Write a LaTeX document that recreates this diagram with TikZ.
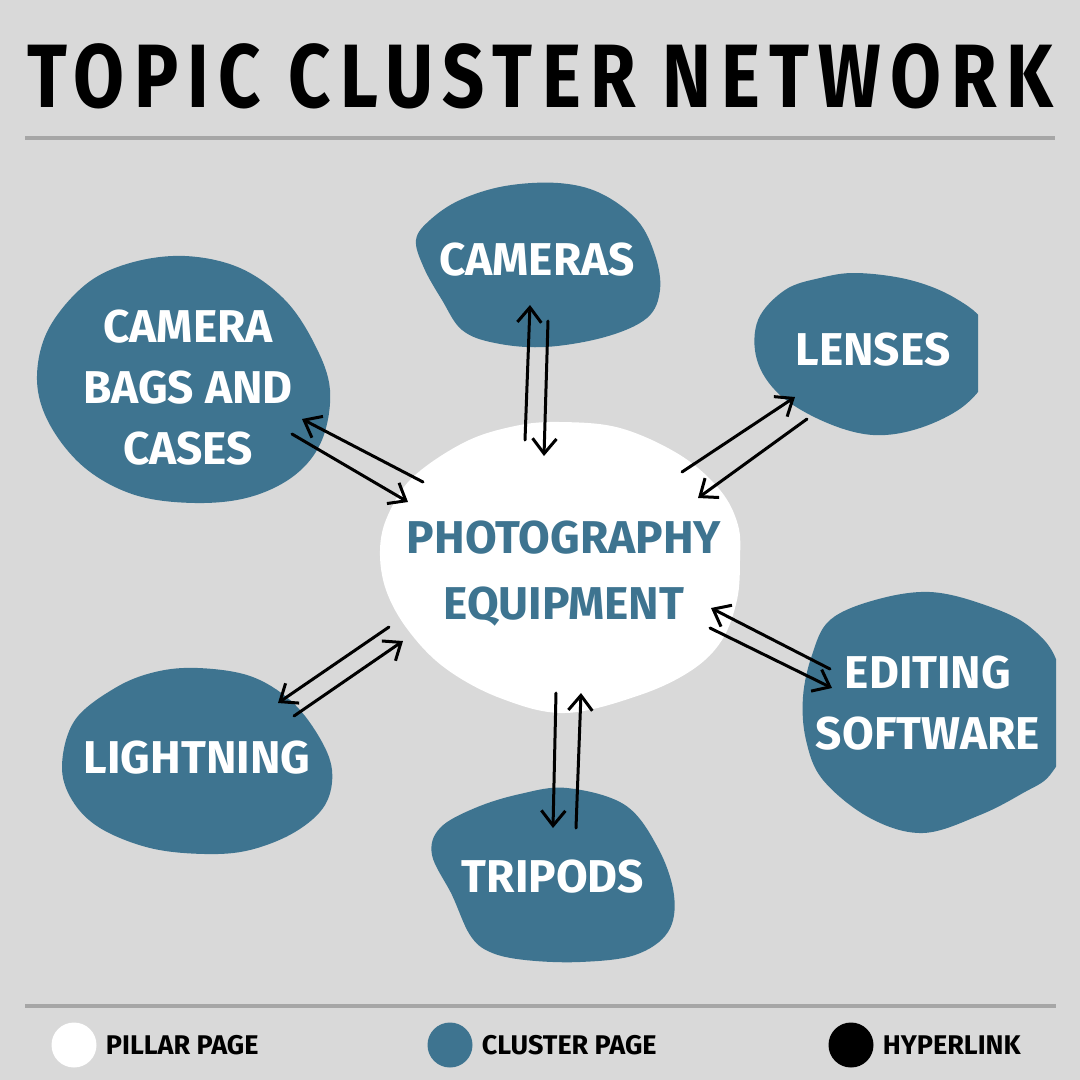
\documentclass[tikz,border=0pt]{standalone}
\usepackage{fontspec}
\setmainfont{Fira Sans}
\newfontfamily\titlefont{Fira Sans}[FakeStretch=0.82, LetterSpace=10.5]
\usetikzlibrary{positioning, arrows.meta}
\definecolor{paper}{HTML}{D9D9D9}
\definecolor{clusterblue}{HTML}{3E7490}
\definecolor{rulegray}{HTML}{A6A6A6}

\begin{document}
\begin{tikzpicture}[x=1pt, y=-1pt,
    blob/.style={fill=clusterblue},
    pillarblob/.style={fill=white},
    clustertext/.style={text=white, font=\bfseries\fontsize{46}{61}\selectfont, align=center, text depth=0pt},
    pillartext/.style={text=clusterblue, font=\bfseries\fontsize{46}{66}\selectfont, align=center, text depth=0pt},
    link/.style={line width=3pt, line cap=round, -{Straight Barb[length=15pt, width=24pt]}},
    key/.style={circle, minimum size=45pt, inner sep=0pt},
    keytext/.style={font=\bfseries\fontsize{27}{27}\selectfont, inner sep=0pt, anchor=west, text depth=0pt}]

    % background and rules
    \fill[paper] (0,0) rectangle (1080,1080);
    \useasboundingbox (0,0) rectangle (1080,1080);
    \node[font=\titlefont\bfseries\fontsize{90}{90}\selectfont, text depth=0pt] (title) at (540,76) {TOPIC CLUSTER NETWORK};
    \draw[rulegray, line width=4pt] (25,138) -- (1055,138);
    \draw[rulegray, line width=4pt] (25,1006) -- (1056,1006);

    % blobs
    \fill[pillarblob] plot[smooth cycle, tension=0.6] coordinates {(560,422) (620,428) (680,455) (720,490) (738,525) (740,560) (737,600) (722,640) (692,670) (640,695) (565,713) (500,698) (445,668) (408,630) (386,590) (380,550) (388,515) (413,477) (465,442) (515,426)};
    \fill[blob] plot[smooth cycle, tension=0.6] coordinates {(558,183) (600,193) (637,220) (655,255) (660,290) (647,318) (605,337) (545,347) (495,343) (462,330) (442,300) (424,268) (416,240) (430,220) (460,200) (505,186)};
    \fill[blob] plot[smooth cycle, tension=0.6] coordinates {(185,256) (240,268) (285,300) (315,345) (330,390) (322,440) (295,475) (250,497) (195,503) (135,495) (85,468) (50,425) (37,380) (48,330) (85,285) (130,263)};
    \begin{scope}
        \clip (0,0) rectangle (978,1080);
        \fill[blob] plot[smooth cycle, tension=0.6] coordinates {(857,273) (910,280) (955,298) (985,325) (988,372) (965,405) (920,428) (873,435) (825,422) (780,395) (757,360) (758,320) (785,290) (820,278)};
    \end{scope}
    \begin{scope}
        \clip (0,0) rectangle (1056,1080);
        \fill[blob] plot[smooth cycle, tension=0.6] coordinates {(930,592) (985,605) (1030,627) (1058,665) (1064,740) (1050,775) (1023,793) (980,815) (923,833) (870,818) (823,780) (806,740) (803,697) (812,655) (830,620) (875,600)};
    \end{scope}
    \fill[blob] plot[smooth cycle, tension=0.6] coordinates {(198,668) (250,676) (290,700) (318,735) (332,770) (325,805) (295,832) (250,850) (205,854) (150,848) (100,828) (72,800) (62,765) (75,720) (115,688) (155,672)};
    \fill[blob] plot[smooth cycle, tension=0.6] coordinates {(567,788) (625,805) (658,848) (674,895) (668,932) (635,955) (580,962) (525,960) (490,952) (470,935) (452,895) (432,855) (440,828) (475,808) (520,794)};

    % labels
    \node[pillartext] (pillar) at (564,570) {PHOTOGRAPHY\\EQUIPMENT};
    \node[clustertext] (cameras) at (537,259) {CAMERAS};
    \node[clustertext] (bags) at (188,387) {CAMERA\\BAGS AND\\CASES};
    \node[clustertext] (lenses) at (873,349) {LENSES};
    \node[clustertext] (editing) at (928,703) {EDITING\\SOFTWARE};
    \node[clustertext] (lightning) at (197,757) {LIGHTNING};
    \node[clustertext] (tripods) at (553,876) {TRIPODS};

    % hyperlink ends
    \coordinate (cam-a) at (525,440); \coordinate (cam-b) at (530,305);
    \coordinate (cam-c) at (548,321); \coordinate (cam-d) at (544,456);
    \coordinate (bag-a) at (423,482); \coordinate (bag-b) at (302,419);
    \coordinate (bag-c) at (292,434); \coordinate (bag-d) at (408,502);
    \coordinate (len-a) at (682,472); \coordinate (len-b) at (795,397);
    \coordinate (len-c) at (807,419); \coordinate (len-d) at (698,498);
    \coordinate (edi-a) at (830,669); \coordinate (edi-b) at (711,608);
    \coordinate (edi-c) at (710,628); \coordinate (edi-d) at (832,688);
    \coordinate (lig-a) at (389,627); \coordinate (lig-b) at (278,703);
    \coordinate (lig-c) at (294,716); \coordinate (lig-d) at (403,641);
    \coordinate (tri-a) at (556,693); \coordinate (tri-b) at (553,828);
    \coordinate (tri-c) at (576,828); \coordinate (tri-d) at (581,693);

    \draw[link] (cam-a) -- (cam-b);
    \draw[link] (cam-c) -- (cam-d);
    \draw[link] (bag-a) -- (bag-b);
    \draw[link] (bag-c) -- (bag-d);
    \draw[link] (len-a) -- (len-b);
    \draw[link] (len-c) -- (len-d);
    \draw[link] (edi-a) -- (edi-b);
    \draw[link] (edi-c) -- (edi-d);
    \draw[link] (lig-a) -- (lig-b);
    \draw[link] (lig-c) -- (lig-d);
    \draw[link] (tri-a) -- (tri-b);
    \draw[link] (tri-c) -- (tri-d);

    % legend
    \node[key, fill=white] (pillarkey) at (74,1045) {};
    \node[key, fill=clusterblue] (clusterkey) at (450,1045) {};
    \node[key, fill=black] (linkkey) at (851,1045) {};
    \node[keytext, right=9pt of pillarkey] (pillarname) {PILLAR PAGE};
    \node[keytext, right=9pt of clusterkey] (clustername) {CLUSTER PAGE};
    \node[keytext, right=9pt of linkkey] (linkname) {HYPERLINK};
\end{tikzpicture}
\end{document}
